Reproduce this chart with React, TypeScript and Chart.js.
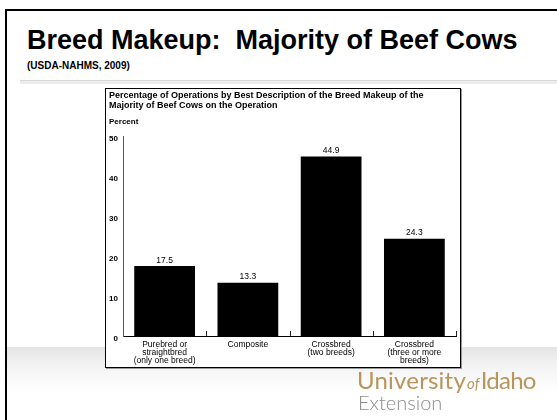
import React, { useEffect, useRef } from "react";
import { Chart, registerables } from "chart.js";

Chart.register(...registerables);

const categories: string[][] = [
  ["Purebred or", "straightbred", "(only one breed)"],
  ["Composite"],
  ["Crossbred", "(two breeds)"],
  ["Crossbred", "(three or more", "breeds)"],
];
const percentValues: number[] = [17.5, 13.3, 44.9, 24.3];
const yTicks: number[] = [0, 10, 20, 30, 40, 50];
const chartTitleLines: string[] = [
  "Percentage of Operations by Best Description of the Breed Makeup of the",
  "Majority of Beef Cows on the Operation",
];
const yAxisLabel = "Percent";

const FONT = "'Liberation Sans', Arial, Helvetica, sans-serif";

const valueLabelPlugin = {
  id: "valueLabels",
  afterDatasetsDraw(chart: any) {
    const ctx = chart.ctx;
    const meta = chart.getDatasetMeta(0);
    ctx.save();
    ctx.font = `8.5px ${FONT}`;
    ctx.fillStyle = "#000";
    ctx.textAlign = "center";
    ctx.textBaseline = "bottom";
    meta.data.forEach((bar: any, i: number) => {
      ctx.fillText(percentValues[i].toFixed(1), bar.x, bar.y - 1.5);
    });
    ctx.restore();
  },
};

const innerTicksPlugin = {
  id: "innerTicks",
  afterDraw(chart: any) {
    const ctx = chart.ctx;
    const x = chart.scales.x;
    const y = chart.scales.y;
    const base = y.getPixelForValue(0);
    const n = categories.length;
    const step = x.getPixelForValue(1) - x.getPixelForValue(0);
    ctx.save();
    ctx.strokeStyle = "#222";
    ctx.lineWidth = 1;
    ctx.beginPath();
    for (let i = 0; i < n; i++) {
      const px = Math.round(x.getPixelForValue(i) + step / 2) + 0.5;
      ctx.moveTo(px, base);
      ctx.lineTo(px, base - 5);
    }
    ctx.stroke();
    ctx.restore();
  },
};

function BarChart() {
  const ref = useRef<HTMLCanvasElement | null>(null);
  useEffect(() => {
    if (!ref.current) return;
    const chart = new Chart(ref.current, {
      type: "bar",
      data: {
        labels: categories,
        datasets: [
          {
            data: percentValues,
            backgroundColor: "#000",
            borderWidth: 0,
            barPercentage: 0.73,
            categoryPercentage: 1,
          },
        ],
      },
      options: {
        animation: false,
        responsive: false,
        maintainAspectRatio: false,
        devicePixelRatio: 1,
        layout: { padding: { left: 3, right: 4, top: 0, bottom: 0 } },
        plugins: {
          legend: { display: false },
          tooltip: { enabled: false },
          title: {
            display: true,
            text: chartTitleLines,
            align: "start",
            color: "#000",
            font: { family: FONT, size: 9, weight: "bold", lineHeight: 10 / 9 },
            padding: { top: 2, bottom: 6 },
          },
          subtitle: {
            display: true,
            text: yAxisLabel,
            align: "start",
            color: "#000",
            font: { family: FONT, size: 8, weight: "bold", lineHeight: 1.25 },
            padding: { top: 0, bottom: 9 },
          },
        },
        scales: {
          x: {
            grid: { display: false, drawTicks: false },
            border: { display: true, color: "#000", width: 1 },
            ticks: {
              color: "#000",
              font: { family: FONT, size: 8.5, lineHeight: 8 / 8.5 },
              padding: 5,
              maxRotation: 0,
              autoSkip: false,
            },
            afterFit(scale: any) {
              scale.height = 31;
            },
          },
          y: {
            min: 0,
            max: 50,
            grid: { display: false, drawTicks: false },
            border: { display: true, color: "#555", width: 1 },
            afterBuildTicks(scale: any) {
              scale.ticks = yTicks.map((v) => ({ value: v }));
            },
            ticks: {
              color: "#000",
              font: { family: FONT, size: 8, weight: "bold" },
              padding: 5,
              labelOffset: 3,
            },
            afterFit(scale: any) {
              scale.width = 14;
            },
          },
        },
      },
      plugins: [valueLabelPlugin, innerTicksPlugin],
    });
    return () => chart.destroy();
  }, []);
  return <canvas ref={ref} width={354} height={278} style={{ display: "block", width: 354, height: 278 }} />;
}

export default function App() {
  return (
    <div
      style={{
        position: "absolute",
        left: 0,
        top: 0,
        width: 557,
        height: 420,
        overflow: "hidden",
        background: "#fff",
        fontFamily: FONT,
      }}
    >
      {/* bottom gradient band */}
      <div
        style={{
          position: "absolute",
          left: 6,
          top: 347,
          width: 551,
          height: 45,
          background: "linear-gradient(#e4e4e4, #f3f3f3 40%, #ffffff)",
        }}
      />
      {/* slide border */}
      <div style={{ position: "absolute", left: 5, top: 9, width: 2, height: 420, background: "#000" }} />
      <div style={{ position: "absolute", left: 5, top: 9, width: 552, height: 2, background: "#000" }} />
      {/* title */}
      <div
        style={{
          position: "absolute",
          left: 27,
          top: 24,
          fontSize: 27,
          fontWeight: "bold",
          whiteSpace: "pre",
          lineHeight: "32px",
          color: "#000",
        }}
      >
        {"Breed Makeup:  Majority of Beef Cows"}
      </div>
      <div
        style={{
          position: "absolute",
          left: 27,
          top: 60,
          fontSize: 10,
          fontWeight: "bold",
          lineHeight: "12px",
          color: "#000",
        }}
      >
        (USDA-NAHMS, 2009)
      </div>
      {/* separator */}
      <div style={{ position: "absolute", left: 20, top: 80, width: 537, height: 1, background: "#d8d8d8" }} />
      <div style={{ position: "absolute", left: 20, top: 81, width: 537, height: 3, background: "#ececec" }} />
      {/* chart box */}
      <div
        style={{
          position: "absolute",
          left: 105,
          top: 88,
          width: 356,
          height: 280,
          boxSizing: "border-box",
          border: "1px solid #000",
          background: "#fff",
          boxShadow: "1px 1px 0 #999",
        }}
      >
        <BarChart />
      </div>
      {/* logo */}
      <div
        style={{
          position: "absolute",
          left: 357,
          top: 367,
          fontFamily: "Lato, 'Open Sans', sans-serif",
          color: "#b8955c",
          fontSize: 24,
          lineHeight: "26px",
          whiteSpace: "nowrap",
          letterSpacing: 0.2,
        }}
      >
        University
        <span style={{ fontSize: 15, fontStyle: "italic", margin: "0 1px" }}>of</span>
        <span style={{ letterSpacing: -0.8 }}>Idaho</span>
      </div>
      <div
        style={{
          position: "absolute",
          left: 358,
          top: 391,
          fontFamily: "Lato, 'Open Sans', sans-serif",
          fontWeight: 300,
          color: "#8c8c8c",
          fontSize: 20,
          lineHeight: "22px",
          whiteSpace: "nowrap",
        }}
      >
        Extension
      </div>
    </div>
  );
}
